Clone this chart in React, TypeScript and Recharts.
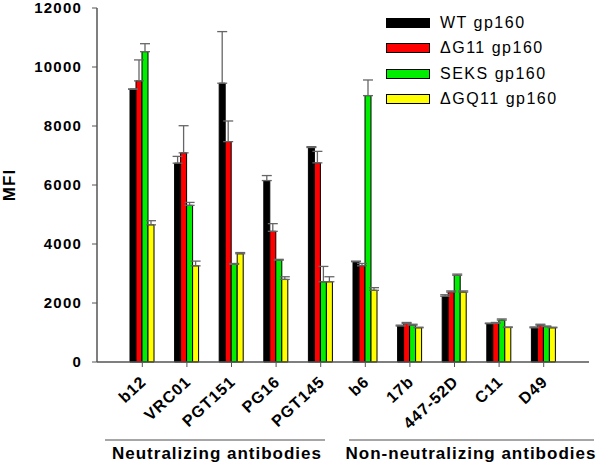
import React from 'react';
import { BarChart, Bar, XAxis, YAxis, ErrorBar, Legend } from 'recharts';

const FONT = '"Liberation Sans", Arial, sans-serif';

// antibody names on the x axis
const antibodies = ['b12', 'VRC01', 'PGT151', 'PG16', 'PGT145', 'b6', '17b', '447-52D', 'C11', 'D49'];

// MFI per envelope variant, and the upper error (SD) for each
const wtValues = [9250, 6740, 9450, 6150, 7270, 3400, 1220, 2230, 1300, 1160];
const wtErrors = [0, 230, 1750, 170, 30, 20, 30, 50, 20, 30];
const dG11Values = [9530, 7090, 7470, 4430, 6750, 3260, 1310, 2370, 1310, 1250];
const dG11Errors = [710, 920, 700, 260, 390, 80, 30, 40, 30, 30];
const seksValues = [10520, 5310, 3310, 3450, 2720, 9030, 1250, 2940, 1420, 1200];
const seksErrors = [270, 100, 30, 30, 520, 530, 30, 40, 40, 20];
const dGQ11Values = [4650, 3260, 3670, 2800, 2720, 2430, 1160, 2370, 1170, 1160];
const dGQ11Errors = [140, 160, 40, 90, 170, 90, 20, 40, 20, 20];

const yTicks = [0, 2000, 4000, 6000, 8000, 10000, 12000];

const series = [
  { key: 'wt', name: 'WT gp160', color: '#000000' },
  { key: 'dG11', name: '\u0394G11 gp160', color: '#ff0000' },
  { key: 'seks', name: 'SEKS gp160', color: '#00ee00' },
  { key: 'dGQ11', name: '\u0394GQ11 gp160', color: '#ffff00' },
];

const data = antibodies.map((name, i) => ({
  name,
  wt: wtValues[i],
  wtErr: [0, wtErrors[i]],
  dG11: dG11Values[i],
  dG11Err: [0, dG11Errors[i]],
  seks: seksValues[i],
  seksErr: [0, seksErrors[i]],
  dGQ11: dGQ11Values[i],
  dGQ11Err: [0, dGQ11Errors[i]],
}));

// slanted bold antibody name under each tick, laid along a diagonal path
const renderAntibodyTick = (props: any) => {
  const { x, y, payload, index } = props;
  const ax = x + 5;
  const ay = y + 14;
  const ang = (43 * Math.PI) / 180;
  const len = 120;
  const id = `abTick${index}`;
  return (
    <g>
      <defs>
        <path id={id} d={`M ${ax - len * Math.cos(ang)} ${ay + len * Math.sin(ang)} L ${ax} ${ay}`} />
      </defs>
      <text fontFamily={FONT} fontWeight="bold" fontSize={16} letterSpacing={1} fill="#000">
        <textPath href={`#${id}`} startOffset="100%" textAnchor="end">
          {payload.value}
        </textPath>
      </text>
    </g>
  );
};

const renderLegend = () => (
  <div style={{ fontFamily: FONT, fontSize: 16, letterSpacing: 1.5, color: '#000' }}>
    {series.map((s) => (
      <div key={s.key} style={{ display: 'flex', alignItems: 'center', height: 25.5 }}>
        <div
          style={{
            width: 42,
            height: 8,
            background: s.color,
            border: '1px solid #000',
            marginRight: 10,
          }}
        />
        <span>{s.name}</span>
      </div>
    ))}
  </div>
);

export default function App() {
  return (
    <div style={{ position: 'absolute', left: 0, top: 0, width: 600, height: 465, background: '#fff' }}>
      <BarChart
        width={600}
        height={465}
        data={data}
        margin={{ top: 8, right: 11, left: 7, bottom: 0 }}
        barSize={6}
        barGap={0}
      >
        <XAxis
          dataKey="name"
          interval={0}
          height={103}
          padding={{ left: 23, right: 23 }}
          axisLine={{ stroke: '#555', strokeWidth: 1.5 }}
          tickLine={{ stroke: '#555' }}
          tickSize={5}
          tick={renderAntibodyTick}
        />
        <XAxis xAxisId="top" dataKey="name" orientation="top" height={0} tick={false} tickLine={false}
          axisLine={{ stroke: '#555', strokeWidth: 1.5 }} />
        <YAxis
          domain={[0, 12000]}
          ticks={yTicks}
          width={90}
          interval={0}
          axisLine={{ stroke: '#555', strokeWidth: 1.5 }}
          tickLine={{ stroke: '#555' }}
          tickSize={5}
          tickMargin={10}
          tick={{ fontFamily: FONT, fontWeight: 'bold', fontSize: 15, letterSpacing: 1.2, fill: '#000' }}
        />
        <YAxis yAxisId="right" orientation="right" domain={[0, 12000]} width={0} tick={false} tickLine={false}
          axisLine={{ stroke: '#555', strokeWidth: 1.5 }} />
        <Legend
          layout="vertical"
          align="center"
          verticalAlign="middle"
          content={renderLegend}
          wrapperStyle={{ top: 10, left: 386, width: 200, height: 102 }}
        />
        {series.map((s) => (
          <Bar key={s.key} dataKey={s.key} name={s.name} fill={s.color} stroke="#000" strokeWidth={1}
            isAnimationActive={false}>
            <ErrorBar dataKey={`${s.key}Err`} width={5} stroke="#666" strokeWidth={1.3} />
          </Bar>
        ))}
      </BarChart>
      <svg width={600} height={465} style={{ position: 'absolute', left: 0, top: 0, pointerEvents: 'none' }}>
        <text transform="translate(15,185) rotate(-90)" textAnchor="middle" fontFamily={FONT} fontWeight="bold"
          fontSize={17} letterSpacing={1} fill="#000">MFI</text>
        <line x1={105} x2={325} y1={440} y2={440} stroke="#888" strokeWidth={1.5} />
        <line x1={349} x2={594} y1={440} y2={440} stroke="#888" strokeWidth={1.5} />
        <text x={217} y={459} textAnchor="middle" fontFamily={FONT} fontWeight="bold" fontSize={17}
          letterSpacing={1} fill="#000">Neutralizing antibodies</text>
        <text x={471} y={459} textAnchor="middle" fontFamily={FONT} fontWeight="bold" fontSize={17}
          letterSpacing={1} fill="#000">Non-neutralizing antibodies</text>
      </svg>
    </div>
  );
}
